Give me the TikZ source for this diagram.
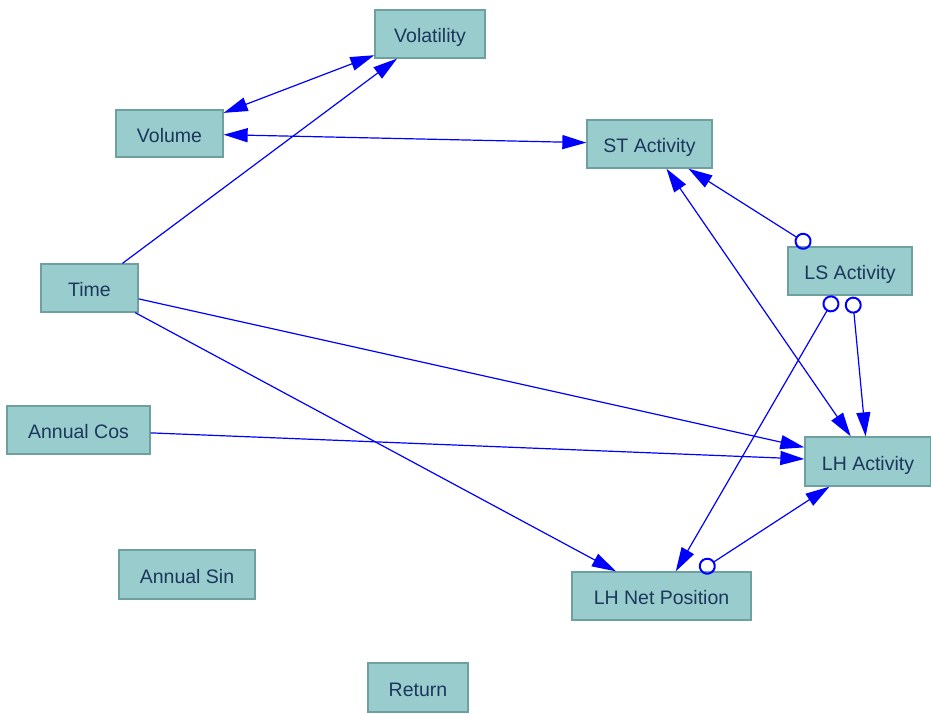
\documentclass[tikz,border=0pt]{standalone}
\usepackage{fontspec}
\setmainfont{Liberation Sans}
\usetikzlibrary{arrows.meta}
\definecolor{boxfill}{RGB}{153,204,204}
\definecolor{boxline}{RGB}{110,160,160}
\definecolor{boxtext}{RGB}{28,55,92}
\definecolor{linkblue}{RGB}{0,0,255}
\tikzset{
  var/.style={draw=boxline, line width=1.3pt, fill=boxfill, text=boxtext,
    inner sep=0pt, text height=17pt, text depth=0pt,
    font=\fontsize{19.5}{22}\selectfont},
  link/.style={draw=linkblue, line width=1.2pt,
    -{Triangle[length=24pt,width=14pt]}},
  dlink/.style={draw=linkblue, line width=1.2pt,
    {Triangle[length=24pt,width=14pt]}-{Triangle[length=24pt,width=14pt]}},
  olink/.style={draw=linkblue, line width=1.2pt, shorten <=1pt,
    {Circle[open,length=17pt,width=17pt,line width=2pt]}-{Triangle[length=24pt,width=14pt]}}
}
\begin{document}
\begin{tikzpicture}[x=1pt,y=-1pt]
\useasboundingbox (0,0) rectangle (931,713);
\node[var, minimum width=110pt, minimum height=48pt] (vol) at (430,34) {Volatility};
\node[var, minimum width=107pt, minimum height=47pt] (volu) at (169.5,133.5) {Volume};
\node[var, minimum width=125pt, minimum height=48pt] (st) at (649.5,144) {ST Activity};
\node[var, minimum width=124pt, minimum height=48pt] (ls) at (850,271) {LS Activity};
\node[var, minimum width=97pt, minimum height=48pt] (time) at (89.5,288) {Time};
\node[var, minimum width=143pt, minimum height=48pt] (cos) at (78.5,430) {Annual Cos};
\node[var, minimum width=126pt, minimum height=49pt] (lh) at (868,461.5) {LH Activity};
\node[var, minimum width=179pt, minimum height=48pt] (lhnp) at (661.5,596) {LH Net Position};
\node[var, minimum width=136pt, minimum height=49pt] (sin) at (187,574.5) {Annual Sin};
\node[var, minimum width=100pt, minimum height=49pt] (ret) at (418,687.5) {Return};

\draw[dlink] (volu) -- (vol);
\draw[link] (time) -- (vol);
\draw[dlink] (volu) -- (st);
\draw[olink] (ls) -- (st);
\draw[dlink] (st) -- (lh);
\draw[olink] (ls) -- (lhnp);
\draw[olink] (ls) -- (lh);
\draw[link] (time) -- (lh);
\draw[link] (cos) -- (lh);
\draw[link] (time) -- (lhnp);
\draw[olink] (lhnp) -- (lh);
\end{tikzpicture}
\end{document}
